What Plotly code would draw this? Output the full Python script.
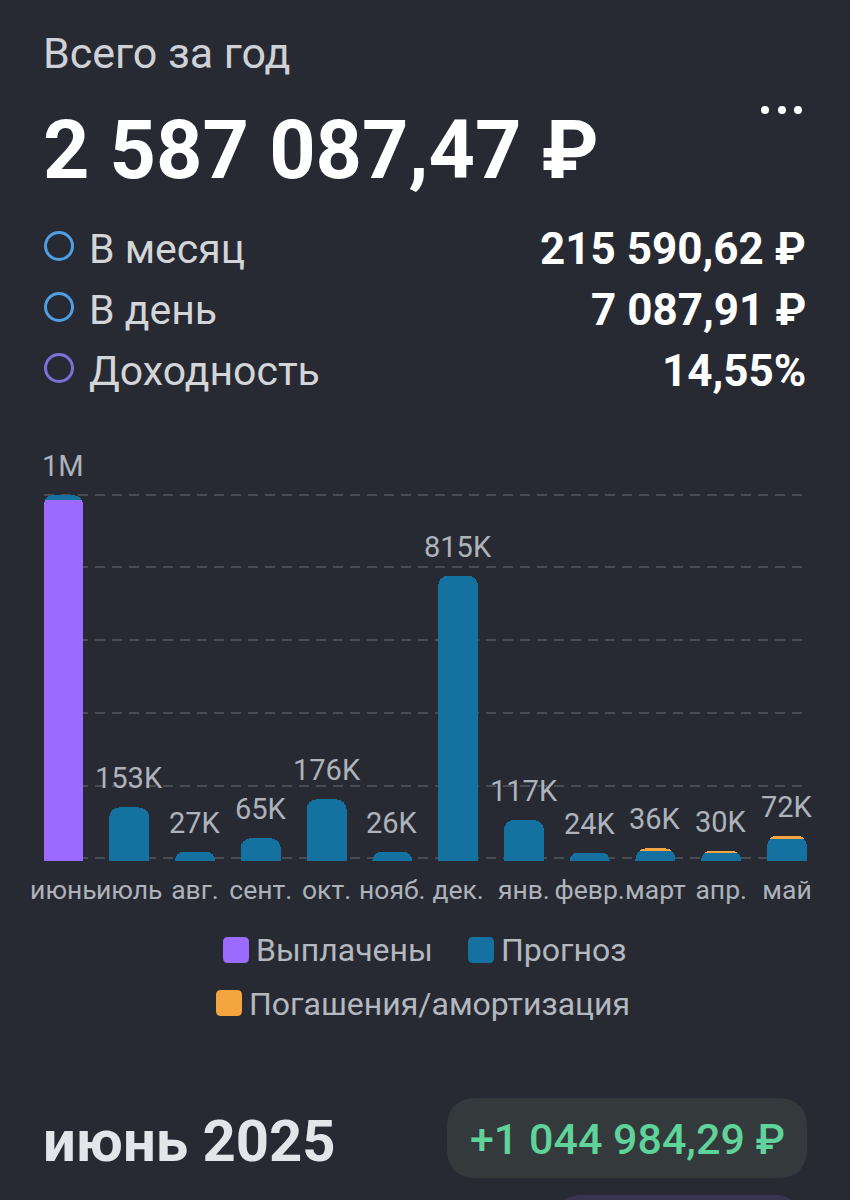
import plotly.graph_objects as go

W = 850
H = 1200
BG = '#282a33'

months = ['июнь', 'июль', 'авг.', 'сент.', 'окт.', 'нояб.', 'дек.', 'янв.', 'февр.', 'март', 'апр.', 'май']
# values in thousands of rubles
paid = [1031, 0, 0, 0, 0, 0, 0, 0, 0, 0, 0, 0]
forecast = [14, 153, 27, 65, 176, 26, 815, 117, 24, 28, 24, 62]
repayment = [0, 0, 0, 0, 0, 0, 0, 0, 0, 8, 6, 10]
bar_labels = ['1M', '153K', '27K', '65K', '176K', '26K', '815K', '117K', '24K', '36K', '30K', '72K']
grid_values = [9, 214, 423, 631, 840, 1046]
totals = [p + f + r for p, f, r in zip(paid, forecast, repayment)]

summary_names = ['В месяц', 'В день', 'Доходность']
summary_values = ['215 590,62 ₽', '7 087,91 ₽', '14,55%']
summary_colors = ['#4f9fe3', '#4f9fe3', '#7a72d8']


def px(x):
    return x / W


def py(y):
    return 1 - y / H


def rounded(x0, y0, x1, y1, r):
    # svg path in paper coords, y given in pixels from the top
    return (
        f'M {px(x0 + r)} {py(y0)} L {px(x1 - r)} {py(y0)} '
        f'Q {px(x1)} {py(y0)} {px(x1)} {py(y0 + r)} L {px(x1)} {py(y1 - r)} '
        f'Q {px(x1)} {py(y1)} {px(x1 - r)} {py(y1)} L {px(x0 + r)} {py(y1)} '
        f'Q {px(x0)} {py(y1)} {px(x0)} {py(y1 - r)} L {px(x0)} {py(y0 + r)} '
        f'Q {px(x0)} {py(y0)} {px(x0 + r)} {py(y0)} Z'
    )


fig = go.Figure()
fig.add_bar(x=months, y=paid, marker_color='#9b6bff', marker_line_width=0, name='Выплачены', showlegend=False)
fig.add_bar(x=months, y=forecast, marker_color='#15719f', marker_line_width=0, name='Прогноз', showlegend=False)
fig.add_bar(x=months, y=repayment, marker_color='#f5a53f', marker_line_width=0, name='Погашения/амортизация', showlegend=False)

for month, total, text in zip(months, totals, bar_labels):
    fig.add_annotation(
        x=month, y=total, text=text, showarrow=False, yanchor='middle', yshift=29,
        font=dict(family='Roboto', size=29, color='#aeb3ba'),
    )


def label(x, y, text, size, color, anchor='left', weight=400):
    fig.add_annotation(
        x=px(x), y=py(y), xref='paper', yref='paper', text=text, showarrow=False,
        xanchor=anchor, yanchor='middle', borderpad=0, borderwidth=0,
        font=dict(family='Roboto', size=size, color=color, weight=weight),
    )


label(43, 53, 'Всего за год', 43, '#cfd1d6')
label(43, 150, '2 587 087,47 ₽', 81, '#ffffff', weight=700)

shapes = []
for cx in [765, 782, 798]:
    shapes.append(dict(type='circle', xref='paper', yref='paper', x0=px(cx - 4), x1=px(cx + 4),
                       y0=py(110 + 4), y1=py(110 - 4), fillcolor='#ffffff', line_width=0))

for name, value, color, cy in zip(summary_names, summary_values, summary_colors, [249, 310, 371]):
    shapes.append(dict(type='circle', xref='paper', yref='paper', x0=px(45.5), x1=px(72.5),
                       y0=py(cy - 3 + 13.5), y1=py(cy - 3 - 13.5), line=dict(color=color, width=3)))
    label(89, cy, name, 41, '#d4d5d8')
    label(806, cy, value, 44, '#ffffff', anchor='right', weight=700)

# legend drawn by hand, swatches are rounded
for x0, y0, color in [(223, 937, '#9b6bff'), (468, 937, '#15719f'), (216, 990, '#f5a53f')]:
    shapes.append(dict(type='path', xref='paper', yref='paper', path=rounded(x0, y0, x0 + 26, y0 + 26, 5),
                       fillcolor=color, line_width=0))
label(256, 950, 'Выплачены', 32, '#b4b8bf')
label(501, 950, 'Прогноз', 32, '#b4b8bf')
label(249, 1004, 'Погашения/амортизация', 32, '#b4b8bf')

label(43, 1141, 'июнь 2025', 58, '#e4e5e8', weight=700)
shapes.append(dict(type='path', xref='paper', yref='paper', path=rounded(447, 1098, 807, 1178, 30),
                   fillcolor='#343a3c', line_width=0))
shapes.append(dict(type='path', xref='paper', yref='paper', path=rounded(555, 1195, 801, 1260, 28),
                   fillcolor='#3a3350', line_width=0))
label(627, 1139, '+1 044 984,29 ₽', 43, '#5fd39a', anchor='center', weight=500)

fig.update_layout(
    width=W,
    height=H,
    margin=dict(l=0, r=0, t=0, b=0, autoexpand=False),
    paper_bgcolor=BG,
    plot_bgcolor=BG,
    barmode='stack',
    bargap=0.392,
    barcornerradius=10,
    shapes=shapes,
    xaxis=dict(
        domain=[px(44), px(807)],
        range=[-0.295, 11.304],
        tickangle=0,
        tickmode='array',
        tickvals=months,
        ticktext=months,
        ticks='',
        ticklabelstandoff=10,
        tickfont=dict(family='Roboto', size=26.5, color='#aeb3ba'),
        showgrid=False,
        showline=False,
        zeroline=False,
    ),
    yaxis=dict(
        domain=[py(861), py(440)],
        range=[0, 1203],
        tickmode='array',
        tickvals=grid_values,
        showticklabels=False,
        showgrid=True,
        gridcolor='#4a4c54',
        griddash='10px,7px',
        gridwidth=1.5,
        zeroline=False,
        showline=False,
    ),
)

fig.write_html('out.html', config=dict(displayModeBar=False), post_script="document.body.style.margin='0'")
